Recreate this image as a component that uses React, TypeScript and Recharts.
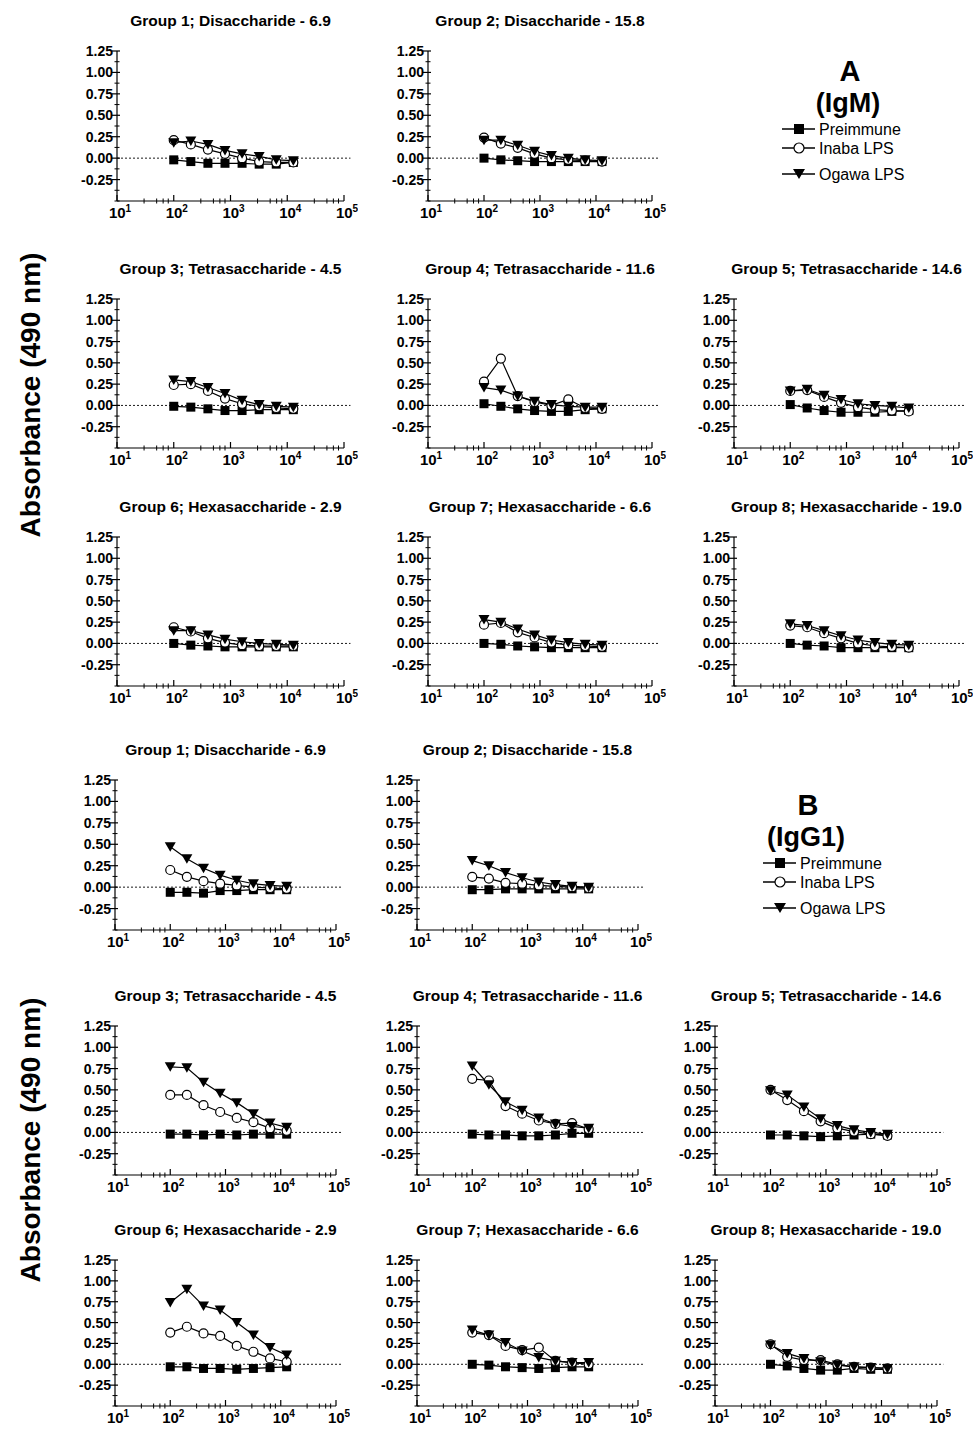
import React from "react";
import { LineChart, Line, XAxis, YAxis, ReferenceLine } from "recharts";

// serum dilutions (reciprocal)
const dilutions = [100, 200, 400, 800, 1600, 3200, 6400, 12800];

const groupTitles = [
  "Group 1; Disaccharide - 6.9",
  "Group 2; Disaccharide - 15.8",
  "Group 3; Tetrasaccharide - 4.5",
  "Group 4; Tetrasaccharide - 11.6",
  "Group 5; Tetrasaccharide - 14.6",
  "Group 6; Hexasaccharide - 2.9",
  "Group 7; Hexasaccharide - 6.6",
  "Group 8; Hexasaccharide - 19.0",
];

const seriesNames = ["Preimmune", "Inaba LPS", "Ogawa LPS"];

// A (IgM), one row per group
const igmPreimmune = [
  [-0.02, -0.04, -0.06, -0.06, -0.06, -0.07, -0.07, -0.05],
  [0.0, -0.02, -0.03, -0.04, -0.04, -0.04, -0.04, -0.04],
  [-0.01, -0.02, -0.04, -0.06, -0.06, -0.05, -0.05, -0.05],
  [0.02, -0.01, -0.04, -0.06, -0.07, -0.07, -0.05, -0.04],
  [0.01, -0.03, -0.06, -0.08, -0.08, -0.08, -0.07, -0.06],
  [0.0, -0.02, -0.03, -0.04, -0.04, -0.04, -0.04, -0.04],
  [0.0, -0.01, -0.03, -0.04, -0.05, -0.05, -0.05, -0.05],
  [0.0, -0.02, -0.03, -0.05, -0.05, -0.05, -0.05, -0.05],
];
const igmInaba = [
  [0.21, 0.16, 0.1, 0.05, 0.0, -0.04, -0.05, -0.05],
  [0.24, 0.17, 0.12, 0.05, 0.0, -0.02, -0.03, -0.04],
  [0.24, 0.25, 0.17, 0.08, 0.02, -0.01, -0.03, -0.04],
  [0.28, 0.55, 0.11, 0.04, 0.0, 0.07, -0.03, -0.04],
  [0.17, 0.18, 0.1, 0.03, -0.02, -0.05, -0.06, -0.07],
  [0.19, 0.14, 0.06, 0.01, -0.02, -0.03, -0.03, -0.03],
  [0.22, 0.24, 0.13, 0.07, 0.01, -0.02, -0.03, -0.04],
  [0.21, 0.19, 0.12, 0.06, 0.0, -0.03, -0.04, -0.05],
];
const igmOgawa = [
  [0.18, 0.2, 0.16, 0.09, 0.05, 0.02, -0.02, -0.03],
  [0.21, 0.21, 0.15, 0.08, 0.03, 0.0, -0.02, -0.03],
  [0.3, 0.28, 0.21, 0.14, 0.06, 0.01, -0.01, -0.02],
  [0.21, 0.18, 0.11, 0.05, 0.01, -0.01, -0.02, -0.02],
  [0.17, 0.19, 0.12, 0.07, 0.02, 0.0, -0.01, -0.03],
  [0.15, 0.15, 0.1, 0.05, 0.02, 0.0, -0.01, -0.02],
  [0.28, 0.25, 0.17, 0.1, 0.04, 0.01, -0.01, -0.02],
  [0.23, 0.21, 0.15, 0.09, 0.04, 0.01, -0.01, -0.02],
];

// B (IgG1)
const igg1Preimmune = [
  [-0.06, -0.06, -0.07, -0.04, -0.04, -0.03, -0.03, -0.03],
  [-0.03, -0.03, -0.02, -0.02, -0.02, -0.02, -0.02, -0.02],
  [-0.02, -0.02, -0.03, -0.02, -0.03, -0.02, -0.02, -0.02],
  [-0.02, -0.03, -0.03, -0.04, -0.04, -0.03, -0.01, -0.01],
  [-0.03, -0.03, -0.04, -0.05, -0.04, -0.03, -0.02, -0.03],
  [-0.03, -0.03, -0.05, -0.05, -0.06, -0.05, -0.04, -0.03],
  [0.0, -0.01, -0.03, -0.04, -0.05, -0.04, -0.03, -0.03],
  [0.0, -0.02, -0.05, -0.07, -0.07, -0.05, -0.06, -0.06],
];
const igg1Inaba = [
  [0.2, 0.12, 0.07, 0.04, 0.02, 0.0, -0.01, -0.02],
  [0.12, 0.1, 0.05, 0.04, 0.02, 0.01, 0.0, -0.01],
  [0.44, 0.44, 0.32, 0.24, 0.17, 0.12, 0.05, 0.02],
  [0.63, 0.61, 0.31, 0.22, 0.14, 0.1, 0.11, 0.04],
  [0.5, 0.38, 0.25, 0.13, 0.05, 0.01, -0.02, -0.04],
  [0.38, 0.45, 0.37, 0.34, 0.22, 0.15, 0.07, 0.03],
  [0.38, 0.35, 0.22, 0.17, 0.2, 0.04, 0.02, 0.0],
  [0.24, 0.09, 0.05, 0.05, 0.0, -0.03, -0.04, -0.05],
];
const igg1Ogawa = [
  [0.47, 0.33, 0.22, 0.14, 0.08, 0.04, 0.02, 0.01],
  [0.31, 0.25, 0.17, 0.11, 0.06, 0.03, 0.01, 0.0],
  [0.77, 0.76, 0.59, 0.46, 0.35, 0.22, 0.11, 0.06],
  [0.78, 0.56, 0.36, 0.26, 0.17, 0.1, 0.07, 0.05],
  [0.49, 0.44, 0.3, 0.16, 0.08, 0.03, 0.0, -0.02],
  [0.74, 0.9, 0.7, 0.65, 0.5, 0.35, 0.2, 0.11],
  [0.41, 0.35, 0.26, 0.16, 0.08, 0.04, 0.02, 0.02],
  [0.23, 0.13, 0.07, 0.03, -0.01, -0.03, -0.04, -0.05],
];

const yTicks = [-0.5, -0.375, -0.25, -0.125, 0, 0.125, 0.25, 0.375, 0.5, 0.625, 0.75, 0.875, 1, 1.125, 1.25];
const yLabels = ["-0.25", "0.00", "0.25", "0.50", "0.75", "1.00", "1.25"];
const xMajor = [10, 100, 1000, 10000, 100000];
const xMinor = [30, 50, 65, 80, 300, 500, 650, 800, 3000, 5000, 6500, 8000, 30000, 50000, 65000, 80000];

const FONT = "'Liberation Sans', Arial, Helvetica, sans-serif";

// where each panel's plot area sits on the page
const slots = [
  [0, 0], [0, 1], [1, 0], [1, 1], [1, 2], [2, 0], [2, 1], [2, 2],
];
const colsA = [{ x: 117, w: 227 }, { x: 428, w: 224 }, { x: 734, w: 225 }];
const colsB = [{ x: 115, w: 221 }, { x: 417, w: 221 }, { x: 715, w: 222 }];
const rowsA = [{ top: 51, bottom: 201 }, { top: 299, bottom: 448 }, { top: 537, bottom: 686 }];
const rowsB = [{ top: 780, bottom: 930 }, { top: 1026, bottom: 1175 }, { top: 1260, bottom: 1406 }];

const PAD_L = 48;
const PAD_R = 14;
const PAD_T = 14;
const PAD_B = 26;

const XTick = (p: any) => {
  const v = p.payload.value;
  const { x, y } = p;
  if (!xMajor.includes(v)) {
    return <line x1={x} x2={x} y1={y - 2.5} y2={y + 2.5} stroke="#000" strokeWidth={1} />;
  }
  const exp = Math.round(Math.log10(v));
  return (
    <g>
      <line x1={x} x2={x} y1={y - 6} y2={y} stroke="#000" strokeWidth={1.2} />
      <text x={x + 3} y={y + 17} textAnchor="middle" fontFamily={FONT} fontWeight={700} fontSize={15} fill="#000">
        10<tspan fontSize={10} dy={-6}>{exp}</tspan>
      </text>
    </g>
  );
};

const YTick = (p: any) => {
  const v = p.payload.value;
  const { x, y } = p;
  const label = yLabels.find((l) => Math.abs(parseFloat(l) - v) < 1e-6);
  if (!label) {
    return <line x1={x - 2.5} x2={x + 2.5} y1={y} y2={y} stroke="#000" strokeWidth={1} />;
  }
  return (
    <g>
      <line x1={x - 5} x2={x + 3} y1={y} y2={y} stroke="#000" strokeWidth={1.2} />
      <text x={x - 4} y={y + 5} textAnchor="end" fontFamily={FONT} fontWeight={700} fontSize={14} fill="#000">
        {label}
      </text>
    </g>
  );
};

const squareDot = (p: any) => (
  <rect key={`s${p.index}`} x={p.cx - 4.5} y={p.cy - 4.5} width={9} height={9} fill="#000" />
);
const circleDot = (p: any) => (
  <circle key={`c${p.index}`} cx={p.cx} cy={p.cy} r={4.5} fill="#fff" stroke="#000" strokeWidth={1.2} />
);
const triangleDot = (p: any) => (
  <path key={`t${p.index}`} d={`M${p.cx - 5.5},${p.cy - 4.5}L${p.cx + 5.5},${p.cy - 4.5}L${p.cx},${p.cy + 5}Z`} fill="#000" />
);

function Panel({ title, pre, inaba, ogawa, col, row }: any) {
  const rows = dilutions.map((d, i) => ({ d, pre: pre[i], inaba: inaba[i], ogawa: ogawa[i] }));
  const plotH = row.bottom - row.top;
  const w = col.w + PAD_L + PAD_R;
  const h = plotH + PAD_T + PAD_B;
  return (
    <div style={{ position: "absolute", left: col.x - PAD_L, top: row.top - PAD_T, width: w, height: h }}>
      <div
        style={{
          position: "absolute",
          left: PAD_L - 20,
          width: col.w + 40,
          top: PAD_T - 40,
          height: 20,
          lineHeight: "20px",
          textAlign: "center",
          fontFamily: FONT,
          fontWeight: 700,
          fontSize: 15.5,
          whiteSpace: "nowrap",
        }}
      >
        {title}
      </div>
      <LineChart width={w} height={h} data={rows} margin={{ top: PAD_T, right: PAD_R, bottom: 0, left: 0 }}>
        <XAxis
          dataKey="d"
          type="number"
          scale="log"
          domain={[10, 100000]}
          allowDataOverflow
          ticks={[...xMajor, ...xMinor]}
          interval={0}
          tickSize={0}
          tickMargin={0}
          tick={XTick}
          height={PAD_B}
          axisLine={{ stroke: "#000", strokeWidth: 1.2 }}
        />
        <YAxis
          type="number"
          domain={[-0.5, 1.25]}
          allowDataOverflow
          ticks={yTicks}
          interval={0}
          tickSize={0}
          tickMargin={0}
          tick={YTick}
          width={PAD_L}
          axisLine={{ stroke: "#000", strokeWidth: 1.2 }}
        />
        <ReferenceLine
          segment={[{ x: 10, y: 0 }, { x: 130000, y: 0 }]}
          ifOverflow="visible"
          stroke="#000"
          strokeWidth={0.9}
          strokeDasharray="2 2"
        />
        <Line dataKey="pre" name={seriesNames[0]} stroke="#000" strokeWidth={1.2} dot={squareDot} isAnimationActive={false} />
        <Line dataKey="inaba" name={seriesNames[1]} stroke="#000" strokeWidth={1.2} dot={circleDot} isAnimationActive={false} />
        <Line dataKey="ogawa" name={seriesNames[2]} stroke="#000" strokeWidth={1.2} dot={triangleDot} isAnimationActive={false} />
      </LineChart>
    </div>
  );
}

function Legend({ x, y, tx, letter, isotype }: any) {
  // x = marker centre, y = centre of first legend row, tx = centre of the heading
  const gaps = [0, 19, 45];
  const shapes = [
    <rect x={x - 5} y={-5} width={10} height={10} fill="#000" />,
    <circle cx={x} cy={0} r={5} fill="#fff" stroke="#000" strokeWidth={1.2} />,
    <path d={`M${x - 6},-5L${x + 6},-5L${x},5Z`} fill="#000" />,
  ];
  return (
    <g>
      <text x={tx + 2} y={y - 48} textAnchor="middle" fontFamily={FONT} fontWeight={700} fontSize={29}>
        {letter}
      </text>
      <text x={tx} y={y - 17} textAnchor="middle" fontFamily={FONT} fontWeight={700} fontSize={27}>
        {isotype}
      </text>
      {seriesNames.map((n, i) => (
        <g key={n} transform={`translate(0,${y + gaps[i]})`}>
          <line x1={x - 17} x2={x + 16} y1={0} y2={0} stroke="#000" strokeWidth={1.3} />
          {shapes[i]}
          <text x={x + 20} y={6} fontFamily={FONT} fontSize={16}>
            {n}
          </text>
        </g>
      ))}
    </g>
  );
}

export default function App() {
  return (
    <div style={{ position: "absolute", left: 0, top: 0, width: 973, height: 1429, background: "#fff" }}>
      {groupTitles.map((t, g) => (
        <Panel
          key={`a${g}`}
          title={t}
          pre={igmPreimmune[g]}
          inaba={igmInaba[g]}
          ogawa={igmOgawa[g]}
          row={rowsA[slots[g][0]]}
          col={colsA[slots[g][1]]}
        />
      ))}
      {groupTitles.map((t, g) => (
        <Panel
          key={`b${g}`}
          title={t}
          pre={igg1Preimmune[g]}
          inaba={igg1Inaba[g]}
          ogawa={igg1Ogawa[g]}
          row={rowsB[slots[g][0]]}
          col={colsB[slots[g][1]]}
        />
      ))}
      <svg width={973} height={1429} style={{ position: "absolute", left: 0, top: 0, pointerEvents: "none" }}>
        <text
          transform="translate(40,395) rotate(-90)"
          textAnchor="middle"
          fontFamily={FONT}
          fontWeight={700}
          fontSize={28}
        >
          Absorbance (490 nm)
        </text>
        <text
          transform="translate(40,1140) rotate(-90)"
          textAnchor="middle"
          fontFamily={FONT}
          fontWeight={700}
          fontSize={28}
        >
          Absorbance (490 nm)
        </text>
        <Legend x={799} y={129} tx={848} letter="A" isotype="(IgM)" />
        <Legend x={780} y={863} tx={806} letter="B" isotype="(IgG1)" />
      </svg>
    </div>
  );
}
